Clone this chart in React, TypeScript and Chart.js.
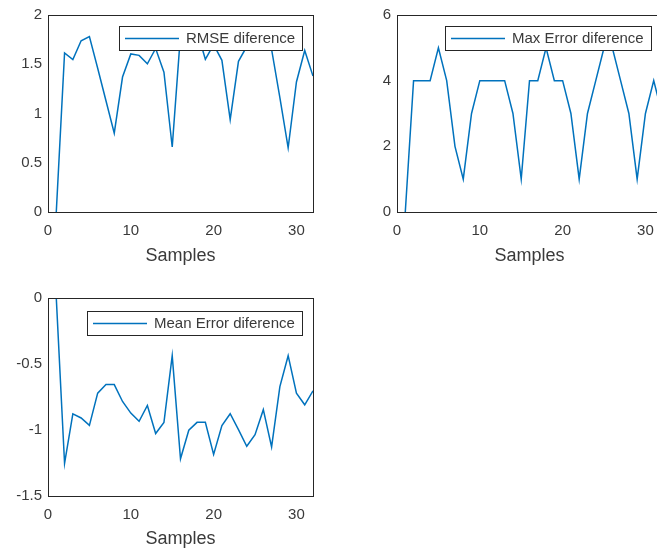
import React, { useEffect, useRef } from "react";
import { Chart, registerables } from "chart.js";

Chart.register(...registerables);

// ---------------- data ----------------
const samples = [1, 2, 3, 4, 5, 6, 7, 8, 9, 10, 11, 12, 13, 14, 15, 16, 17, 18, 19, 20, 21, 22, 23, 24, 25, 26, 27, 28, 29, 30, 31, 32];

const rmseDiff = [0, 1.615, 1.548, 1.739, 1.78, 1.46, 1.13, 0.8, 1.37, 1.605, 1.59, 1.505, 1.66, 1.42, 0.66, 1.8, 1.82, 1.84, 1.55, 1.7, 1.54, 0.937, 1.53, 1.68, 1.78, 1.8, 1.65, 1.16, 0.652, 1.32, 1.64, 1.38];

const maxErrorDiff = [0, 4, 4, 4, 5, 4, 2, 1, 3, 4, 4, 4, 4, 3, 1, 4, 4, 5, 4, 4, 3, 1, 3, 4, 5, 5, 4, 3, 1, 3, 4, 3];

const meanErrorDiff = [0, -1.253, -0.877, -0.909, -0.965, -0.721, -0.656, -0.656, -0.784, -0.872, -0.934, -0.814, -1.027, -0.942, -0.437, -1.218, -1.002, -0.942, -0.942, -1.185, -0.967, -0.877, -0.997, -1.123, -1.035, -0.846, -1.128, -0.671, -0.437, -0.721, -0.809, -0.703];

const xTickValues = [0, 10, 20, 30];
const rmseTickValues = [0, 0.5, 1, 1.5, 2];
const maxTickValues = [0, 2, 4, 6];
const meanTickValues = [-1.5, -1, -0.5, 0];

const xLabel = "Samples";
const rmseLabel = "RMSE diference";
const maxLabel = "Max Error diference";
const meanLabel = "Mean Error diference";

// ---------------- styles ----------------
const FONT = '"Liberation Sans", Arial, Helvetica, sans-serif';
const LINE_COLOR = "#0072BD";
const TEXT_COLOR = "#3a3a3a";
const AXIS_COLOR = "#262626";
const LINE_WIDTH = 1.5;

function makePlugins(legendRight: number, legendTop: number) {
  const legendPlugin = {
    id: "boxLegend",
    afterDatasetsDraw(chart: any) {
      const { ctx, chartArea } = chart;
      const text = chart.data.datasets[0].label as string;
      ctx.save();
      ctx.font = `15px ${FONT}`;
      const tw = ctx.measureText(text).width;
      const w = Math.round(6 + 54 + 7 + tw + 7);
      const h = 24;
      const x = Math.round(chartArea.right - legendRight - w);
      const y = Math.round(chartArea.top + legendTop);
      ctx.fillStyle = "#ffffff";
      ctx.fillRect(x, y, w, h);
      ctx.strokeStyle = AXIS_COLOR;
      ctx.lineWidth = 1;
      ctx.strokeRect(x + 0.5, y + 0.5, w, h);
      ctx.strokeStyle = LINE_COLOR;
      ctx.lineWidth = LINE_WIDTH;
      ctx.beginPath();
      ctx.moveTo(x + 6, y + h / 2 + 0.5);
      ctx.lineTo(x + 60, y + h / 2 + 0.5);
      ctx.stroke();
      ctx.fillStyle = TEXT_COLOR;
      ctx.textAlign = "left";
      ctx.textBaseline = "middle";
      ctx.fillText(text, x + 67, y + h / 2 + 1);
      ctx.restore();
    },
  };
  const boxPlugin = {
    id: "axesBox",
    afterDraw(chart: any) {
      const { ctx, chartArea: a } = chart;
      ctx.save();
      ctx.strokeStyle = AXIS_COLOR;
      ctx.lineWidth = 1;
      const l = Math.round(a.left) + 0.5;
      const t = Math.round(a.top) + 0.5;
      const r = Math.round(a.right) + 0.5;
      const b = Math.round(a.bottom) + 0.5;
      ctx.strokeRect(l, t, r - l, b - t);
      ctx.restore();
    },
  };
  return [legendPlugin, boxPlugin];
}

type PanelProps = {
  left: number;
  top: number;
  width: number;
  height: number;
  values: number[];
  label: string;
  yTicks: number[];
  yAxisWidth: number;
  padTop: number;
  padRight: number;
  padBottom: number;
  xAxisHeight: number;
  legendRight: number;
  legendTop: number;
};

const fmt = (v: any) => String(Math.round(Number(v) * 1000) / 1000);

function Panel(p: PanelProps) {
  const ref = useRef<HTMLCanvasElement | null>(null);
  useEffect(() => {
    if (!ref.current) return;
    const yMin = p.yTicks[0];
    const yMax = p.yTicks[p.yTicks.length - 1];
    const chart = new Chart(ref.current, {
      type: "line",
      data: {
        datasets: [
          {
            label: p.label,
            data: samples.map((s, i) => ({ x: s, y: p.values[i] })),
            borderColor: LINE_COLOR,
            borderWidth: LINE_WIDTH,
            pointRadius: 0,
            fill: false,
            tension: 0,
          },
        ],
      },
      options: {
        animation: false,
        responsive: false,
        devicePixelRatio: 1,
        layout: { padding: { top: p.padTop, right: p.padRight, bottom: p.padBottom, left: 0 } },
        plugins: {
          legend: { display: false },
          tooltip: { enabled: false },
        },
        scales: {
          x: {
            type: "linear",
            min: 0,
            max: 32,
            grid: { display: false, drawTicks: false },
            border: { display: false },
            ticks: {
              padding: 10,
              color: TEXT_COLOR,
              font: { family: FONT, size: 15 },
              maxRotation: 0,
              autoSkip: false,
              includeBounds: false,
              callback: fmt,
            },
            afterBuildTicks: (axis: any) => {
              axis.ticks = xTickValues.map((v) => ({ value: v }));
            },
            afterFit: (axis: any) => {
              axis.height = p.xAxisHeight;
            },
            title: {
              display: true,
              text: xLabel,
              color: TEXT_COLOR,
              font: { family: FONT, size: 18 },
              padding: { top: 0, bottom: 2 },
            },
          },
          y: {
            type: "linear",
            min: yMin,
            max: yMax,
            grid: { display: false, drawTicks: false },
            border: { display: false },
            ticks: {
              padding: 6,
              color: TEXT_COLOR,
              font: { family: FONT, size: 15 },
              autoSkip: false,
              includeBounds: false,
              callback: fmt,
            },
            afterBuildTicks: (axis: any) => {
              axis.ticks = p.yTicks.map((v) => ({ value: v }));
            },
            afterFit: (axis: any) => {
              axis.width = p.yAxisWidth;
            },
          },
        },
      },
      plugins: makePlugins(p.legendRight, p.legendTop) as any,
    });
    return () => chart.destroy();
  }, []);
  return (
    <div style={{ position: "absolute", left: p.left, top: p.top, width: p.width, height: p.height }}>
      <canvas ref={ref} width={p.width} height={p.height} style={{ width: p.width, height: p.height, display: "block" }} />
    </div>
  );
}

export default function App() {
  return (
    <div
      style={{
        position: "fixed",
        left: 0,
        top: 0,
        width: 657,
        height: 552,
        overflow: "hidden",
        background: "#ffffff",
      }}
    >
      <Panel
        left={0}
        top={0}
        width={330}
        height={275}
        values={rmseDiff}
        label={rmseLabel}
        yTicks={rmseTickValues}
        yAxisWidth={48}
        padTop={12}
        padRight={17}
        padBottom={6}
        xAxisHeight={57}
        legendRight={11}
        legendTop={11}
      />
      <Panel
        left={330}
        top={0}
        width={345}
        height={275}
        values={maxErrorDiff}
        label={maxLabel}
        yTicks={maxTickValues}
        yAxisWidth={67}
        padTop={12}
        padRight={13}
        padBottom={6}
        xAxisHeight={57}
        legendRight={11}
        legendTop={11}
      />
      <Panel
        left={0}
        top={283}
        width={330}
        height={269}
        values={meanErrorDiff}
        label={meanLabel}
        yTicks={meanTickValues}
        yAxisWidth={48}
        padTop={13}
        padRight={17}
        padBottom={0}
        xAxisHeight={56}
        legendRight={11}
        legendTop={13}
      />
    </div>
  );
}
